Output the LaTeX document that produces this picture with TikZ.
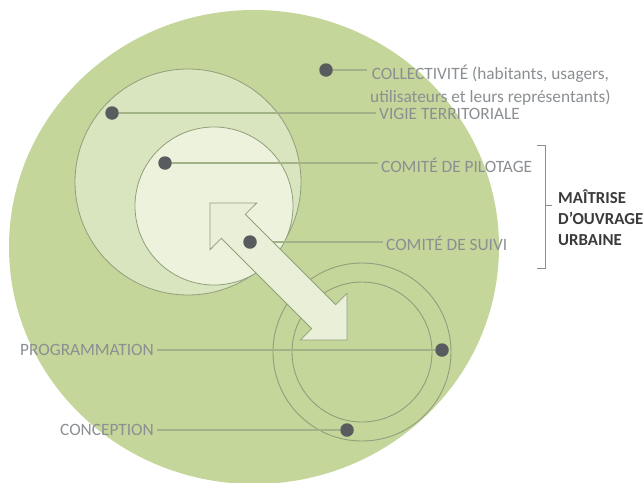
\documentclass[tikz,border=0pt]{standalone}
\usepackage{fontspec}
\setmainfont{Carlito}
\usepackage{tikz}
\usetikzlibrary{positioning,calc}
\definecolor{gr}{HTML}{C4D69A}
\definecolor{md}{HTML}{D9E5BE}
\definecolor{lt}{HTML}{EDF2DC}
\definecolor{ar}{HTML}{EAF0D8}
\definecolor{rl}{HTML}{909F7C}
\definecolor{ld}{HTML}{A2B487}
\definecolor{dk}{HTML}{585C5F}
\definecolor{tx}{HTML}{8B8F92}
\definecolor{bk}{HTML}{3A3A3A}

\begin{document}
\begin{tikzpicture}[x=1pt,y=-1pt,
  dt/.style={circle,fill=dk,inner sep=0pt,minimum size=13.5pt},
  lb/.style={text=tx,font=\fontsize{17.3}{23}\selectfont,inner sep=3pt},
  ln/.style={draw=ld,line width=1.1pt},
  rg/.style={draw=rl,line width=0.9pt}]
\useasboundingbox (0,0) rectangle (644,482);
% circles
\fill[gr] (254,247) ellipse [x radius=245,y radius=237];
\filldraw[fill=md,draw=rl,line width=0.8pt] (188,182) circle [radius=113];
\filldraw[fill=lt,draw=rl,line width=0.8pt] (214,206) circle [radius=79];
\draw[rg] (362,352) circle [radius=89];
\draw[rg] (362,352) circle [radius=70];
% dots
\node[dt](d1) at (326,70){};
\node[dt](d2) at (112,113){};
\node[dt](d3) at (165,163){};
\node[dt](d4) at (250,242){};
\node[dt](d5) at (442,350){};
\node[dt](d6) at (347,430){};
% labels
\node[lb,align=center,anchor=west](t1) at (367,85){COLLECTIVITÉ (habitants, usagers,\\utilisateurs et leurs représentants)};
\node[lb,anchor=west](t2) at (376,114){VIGIE TERRITORIALE};
\node[lb,anchor=west](t3) at (378,165){COMITÉ DE PILOTAGE};
\node[lb,anchor=west](t4) at (383,243){COMITÉ DE SUIVI};
\node[lb,anchor=west](t5) at (17,350){PROGRAMMATION};
\node[lb,anchor=west](t6) at (57,430){CONCEPTION};
\node[text=bk,font=\fontsize{16.8}{21}\selectfont\bfseries,align=left,anchor=west,inner sep=0pt](t7) at (558,218){MAÎTRISE\\D'OUVRAGE\\URBAINE};
% leaders
\draw[ln](d1)--(d1-|t1.west);
\draw[ln](d2)--(d2-|t2.west);
\draw[ln](d3)--(d3-|t3.west);
\draw[ln](d4)--(d4-|t4.west);
\draw[ln](t5.east|-d5)--(d5);
\draw[ln](t6.east|-d6)--(d6);
% arrow
\filldraw[fill=ar,draw=rl,line width=0.8pt](210,203)--(256.7,203)--(245.3,214.3)--(335.7,304.7)--(347,293.4)--(347,340)--(300.4,340)--(311.7,328.7)--(221.3,238.3)--(210,249.7)--cycle;
\node[dt] at (d4){};
% bracket
\draw[draw=tx,line width=1pt](537,145)--(545,145)--(545,268)--(537,268);
\draw[draw=tx,line width=1pt](545,205)--(552,205);
\end{tikzpicture}
\end{document}
